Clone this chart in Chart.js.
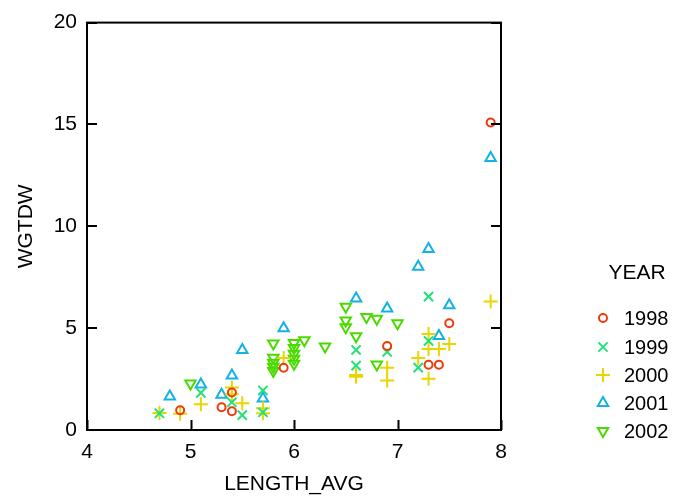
<!DOCTYPE html>
<html>
<head>
<meta charset="utf-8">
<script src="https://cdn.jsdelivr.net/npm/chart.js@4.4.0/dist/chart.umd.min.js"></script>
<style>
html,body{margin:0;padding:0;background:#fff;}
#wrap{width:676px;height:497px;position:relative;}
</style>
</head>
<body>
<div id="wrap"><canvas id="c" width="676" height="497"></canvas></div>
<script>
const xTicks = [4, 5, 6, 7, 8];
const yTicks = [0, 5, 10, 15, 20];
const seriesNames = ["1998", "1999", "2000", "2001", "2002"];

const x1998 = [4.9, 5.3, 5.4, 5.4, 5.9, 6.9, 7.5, 7.3, 7.4, 7.9];
const y1998 = [0.97, 1.12, 0.92, 1.84, 3.06, 4.12, 5.24, 3.20, 3.20, 15.1];

const x1999 = [4.7, 5.1, 5.4, 5.5, 5.7, 5.7, 6.6, 6.6, 6.9, 7.3, 7.3, 7.2];
const y1999 = [0.82, 1.82, 1.36, 0.73, 1.94, 0.87, 3.93, 3.16, 3.83, 6.55, 4.37, 3.06];

const x2000 = [4.7, 4.9, 5.1, 5.4, 5.4, 5.5, 5.7, 5.7, 5.9, 6.6, 6.6, 6.9, 6.9, 7.3, 7.3, 7.4, 7.5, 7.2, 7.3, 7.9];
const y2000 = [0.83, 0.80, 1.26, 2.09, 1.75, 1.31, 1.07, 0.82, 3.54, 2.62, 2.70, 3.06, 2.43, 4.71, 3.98, 3.98, 4.22, 3.54, 2.52, 6.31];

const x2001 = [4.8, 5.1, 5.3, 5.4, 5.5, 5.7, 5.9, 6.6, 6.9, 7.3, 7.2, 7.5, 7.4, 7.9];
const y2001 = [1.65, 2.23, 1.73, 2.67, 3.93, 1.55, 5.0, 6.46, 5.97, 8.88, 8.01, 6.12, 4.61, 13.35];

const x2002 = [5.0, 5.8, 5.8, 5.8, 5.8, 5.8, 6.0, 6.0, 6.0, 6.0, 6.0, 6.1, 6.3, 6.5, 6.5, 6.5, 6.6, 6.7, 6.8, 7.0, 6.8];
const y2002 = [2.28, 4.25, 3.55, 3.30, 3.10, 2.90, 4.27, 4.03, 3.74, 3.50, 3.25, 4.40, 4.10, 6.05, 5.37, 5.05, 4.60, 5.55, 5.46, 5.24, 3.22];

const xs = [x1998, x1999, x2000, x2001, x2002];
const ys = [y1998, y1999, y2000, y2001, y2002];
const colors = ["#ee3a0a", "#22e07a", "#e8d600", "#14b2e4", "#4ada00"];
const styles = ["circle", "crossRot", "cross", "triangle", "triangle"];
const rotations = [0, 0, 0, 0, 180];
const radii = [4, 6.5, 7, 6, 6];

const FONT = "'Liberation Sans', Arial, sans-serif";

const datasets = seriesNames.map((n, i) => ({
  label: n,
  data: xs[i].map((x, j) => ({x: x, y: ys[i][j]})),
  pointStyle: styles[i],
  rotation: rotations[i],
  pointRadius: radii[i],
  pointHoverRadius: radii[i],
  borderColor: colors[i],
  backgroundColor: "rgba(0,0,0,0)",
  pointBorderWidth: 2,
  borderWidth: 2
}));

const framePlugin = {
  id: "frame",
  afterDraw(chart) {
    const ctx = chart.ctx;
    const a = chart.chartArea;
    const xs_ = chart.scales.x, ys_ = chart.scales.y;
    ctx.save();
    ctx.strokeStyle = "#000";
    ctx.lineWidth = 2;
    ctx.strokeRect(a.left, a.top, a.right - a.left, a.bottom - a.top);
    ctx.beginPath();
    xTicks.forEach(v => {
      const p = Math.round(xs_.getPixelForValue(v)) + 0.5;
      ctx.moveTo(p, a.bottom); ctx.lineTo(p, a.bottom - 10);
    });
    yTicks.forEach(v => {
      const p = Math.round(ys_.getPixelForValue(v));
      ctx.moveTo(a.left, p); ctx.lineTo(a.left + 10, p);
      ctx.moveTo(a.right, p); ctx.lineTo(a.right - 10, p);
    });
    ctx.stroke();

    // legend
    ctx.fillStyle = "#000";
    ctx.font = "21px " + FONT;
    ctx.textAlign = "center";
    ctx.textBaseline = "middle";
    ctx.fillText("YEAR", 637, 273);
    ctx.font = "20px " + FONT;
    const rowY = [318, 347, 375, 403, 431];
    ctx.textAlign = "left";
    seriesNames.forEach((n, i) => {
      ctx.strokeStyle = colors[i];
      ctx.fillStyle = "rgba(0,0,0,0)";
      ctx.lineWidth = 2;
      Chart.helpers.drawPoint(ctx, {pointStyle: styles[i], rotation: rotations[i], radius: radii[i], borderWidth: 2}, 603, rowY[i]);
      ctx.fillStyle = "#000";
      ctx.fillText(n, 624, rowY[i] + 1);
    });
    ctx.restore();
  }
};

new Chart(document.getElementById("c"), {
  type: "scatter",
  data: {datasets: datasets},
  options: {
    responsive: false,
    animation: false,
    events: [],
    layout: {padding: {left: 14, right: 175, top: 18, bottom: 0}},
    plugins: {legend: {display: false}, tooltip: {enabled: false}},
    scales: {
      x: {
        type: "linear", min: 4, max: 8,
        afterBuildTicks(s) { s.ticks = xTicks.map(v => ({value: v})); },
        afterFit(s) { s.height = 67; },
        grid: {display: false, drawTicks: false},
        border: {display: false},
        ticks: {color: "#000", font: {family: FONT, size: 21}, padding: 10, maxRotation: 0},
        title: {display: true, text: "LENGTH_AVG", color: "#000", font: {family: FONT, size: 21}, padding: {top: 2, bottom: 0}}
      },
      y: {
        type: "linear", min: 0, max: 20,
        afterBuildTicks(s) { s.ticks = yTicks.map(v => ({value: v})); },
        afterFit(s) { s.width = 73; },
        grid: {display: false, drawTicks: false},
        border: {display: false},
        ticks: {color: "#000", font: {family: FONT, size: 21}, padding: 10},
        title: {display: true, text: "WGTDW", color: "#000", font: {family: FONT, size: 21}, padding: {top: 0, bottom: 0}}
      }
    }
  },
  plugins: [framePlugin]
});
</script>
</body>
</html>
